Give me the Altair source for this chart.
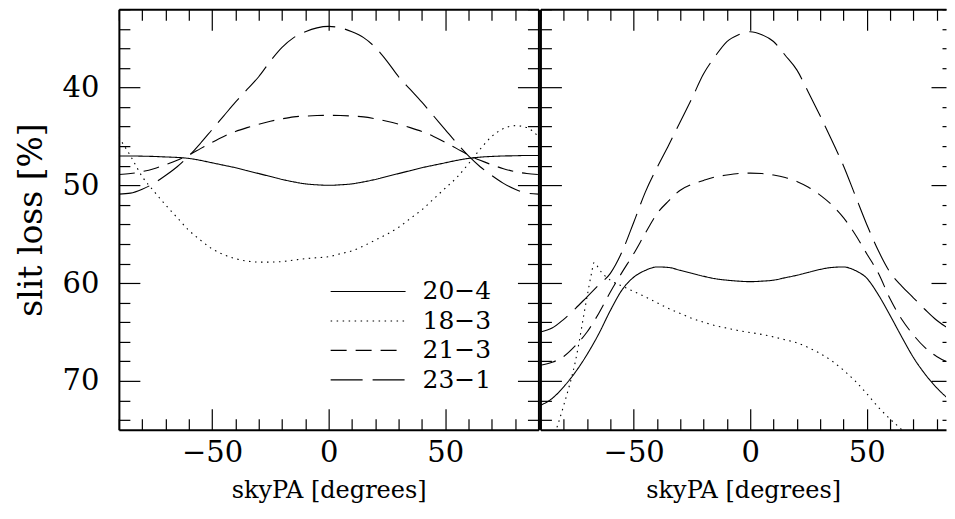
import altair as alt
import pandas as pd

# ---------------- data ----------------
series_names = ["20\u22124", "18\u22123", "21\u22123", "23\u22121"]

skypa = list(range(-90, 91, 5))

left_20_4 = [47.0, 47.0, 47.02, 47.05, 47.1, 47.15, 47.25, 47.45, 47.7, 47.95, 48.2, 48.5, 48.8,
             49.1, 49.4, 49.65, 49.85, 49.95, 50.0, 49.95, 49.85, 49.65, 49.4, 49.1, 48.8, 48.5,
             48.2, 47.95, 47.7, 47.45, 47.25, 47.12, 47.05, 47.0, 46.98, 46.95, 46.95]
left_18_3 = [45.1, 47.0, 49.1, 50.6, 52.0, 53.3, 54.6, 55.6, 56.5, 57.1, 57.5, 57.75, 57.85,
             57.85, 57.8, 57.65, 57.5, 57.4, 57.3, 57.0, 56.7, 56.2, 55.6, 55.0, 54.3, 53.4,
             52.5, 51.4, 50.3, 49.2, 47.8, 46.3, 45.0, 44.2, 43.9, 44.1, 45.0]
left_21_3 = [48.9, 48.8, 48.6, 48.3, 47.9, 47.45, 46.9, 46.25, 45.6, 45.0, 44.5, 44.1, 43.75,
             43.45, 43.2, 43.0, 42.92, 42.87, 42.85, 42.87, 42.92, 43.0, 43.2, 43.45, 43.75, 44.1,
             44.5, 45.0, 45.6, 46.25, 46.9, 47.45, 47.9, 48.3, 48.6, 48.8, 48.9]
left_23_1 = [50.9, 50.8, 50.4, 49.8, 49.0, 48.1, 47.0, 45.7, 44.3, 42.9, 41.5, 40.2, 38.9,
             37.3, 35.9, 34.9, 34.3, 33.9, 33.75, 33.9, 34.3, 34.9, 35.9, 37.3, 38.9, 40.2,
             41.5, 42.9, 44.3, 45.7, 47.0, 48.1, 49.0, 49.8, 50.4, 50.8, 50.9]

right_20_4 = [72.5, 71.8, 70.6, 69.1, 67.3, 65.2, 62.8, 60.7, 59.4, 58.7, 58.35, 58.4, 58.7,
              59.0, 59.3, 59.55, 59.7, 59.8, 59.85, 59.8, 59.7, 59.45, 59.2, 58.9, 58.6, 58.4,
              58.35, 58.7, 59.5, 61.2, 63.3, 65.5, 67.6, 69.3, 70.7, 71.8, 72.5]
right_18_3_x = [-90, -85, -80, -75, -70, -68, -67, -66, -65, -60, -55, -50, -45, -40, -35, -30,
                -25, -20, -15, -10, -5, 0, 5, 10, 15, 20, 25, 30, 35, 40, 45, 50, 55, 60, 65,
                70, 75, 80, 85, 90]
right_18_3 = [80.0, 76.3, 72.5, 68.0, 61.4, 58.9, 57.9, 58.1, 58.5, 59.7, 60.3, 60.85, 61.4,
              62.0, 62.6, 63.1, 63.6, 64.0, 64.35, 64.6, 64.85, 65.05, 65.25, 65.5, 65.8, 66.1,
              66.6, 67.2, 67.95, 68.9, 70.0, 71.3, 72.7, 73.9, 75.0, 76.3, 77.6, 78.8, 79.5, 80.0]
right_21_3 = [68.4, 68.1, 67.5, 66.4, 65.0, 63.1, 60.9, 58.9, 57.0, 54.9, 52.9, 51.6, 50.5,
              49.9, 49.5, 49.15, 48.95, 48.8, 48.75, 48.8, 48.95, 49.2, 49.6, 50.2, 51.0, 52.0,
              53.3, 55.0, 57.0, 59.0, 61.6, 63.7, 65.3, 66.6, 67.5, 68.1, 68.4]
right_23_1 = [65.0, 64.6, 63.7, 62.6, 61.4, 60.2, 59.0, 56.8, 53.8, 50.7, 48.2, 45.9, 43.5,
              41.1, 38.6, 36.8, 35.3, 34.6, 34.3, 34.6, 35.3, 36.7, 38.2, 40.5, 42.9, 45.4,
              48.0, 51.0, 54.0, 56.7, 58.9, 60.3, 61.5, 62.7, 63.8, 64.6, 65.0]

x_tick_values = list(range(-90, 91, 10))
y_tick_values = list(range(32, 76, 2))
x_label_values = [-50, 0, 50]
y_label_values = [40, 50, 60, 70]


def long_frame(pairs):
    rows = []
    for name, xs, ys in pairs:
        for xv, yv in zip(xs, ys):
            rows.append({"skypa": xv, "loss": yv, "series": name})
    return pd.DataFrame(rows)


left_df = long_frame([
    (series_names[0], skypa, left_20_4),
    (series_names[1], skypa, left_18_3),
    (series_names[2], skypa, left_21_3),
    (series_names[3], skypa, left_23_1),
])
right_df = long_frame([
    (series_names[0], skypa, right_20_4),
    (series_names[1], right_18_3_x, right_18_3),
    (series_names[2], skypa, right_21_3),
    (series_names[3], skypa, right_23_1),
])

# ---------------- styling ----------------
W, H = 420, 421
W_R = 406                               # right panel is cut by the window edge
X_MAX_R = -90 + 180 * W_R / W           # same px/degree as the left panel
FONT = "DejaVu Serif"
LABEL_SIZE = 29

yscale = alt.Scale(domain=[32, 75], reverse=True, nice=False, zero=False)
dash_scale = alt.Scale(domain=series_names,
                       range=[[1, 0], [1.5, 4.5], [16, 9], [32, 10]])


def cond(test, major, minor):
    return {"condition": {"test": test, "value": major}, "value": minor}


def tick_axis(orient, offset, values, size, domain):
    return alt.Axis(orient=orient, offset=offset, values=values, tickSize=size,
                    labels=False, domain=domain, domainColor="black", domainWidth=2,
                    grid=False, title=None, tickColor="black", tickWidth=1.2)


def panel(df, width, xmax, show_y, show_legend, right_cut):
    xscale = alt.Scale(domain=[-90, xmax], nice=False, zero=False)
    xt = [v for v in x_tick_values if v <= xmax]
    x_size = cond("datum.value % 50 === 0", 21, 11)
    y_size = cond("datum.value % 10 === 0", 21, 11)
    y_size_right = cond("datum.value % 10 === 0", 15, 4) if right_cut else y_size

    x_lab = alt.Axis(orient="bottom", values=x_label_values, ticks=False, tickSize=0,
                     domain=False, grid=False, labelPadding=9, labelFontSize=LABEL_SIZE,
                     title="skyPA [degrees]", titleFontSize=24, titlePadding=11)
    if show_y:
        y_enc = alt.Y("loss:Q", scale=yscale,
                      axis=alt.Axis(orient="left", values=y_label_values, ticks=False,
                                    tickSize=0, domain=False, grid=False, labelPadding=20,
                                    labelFontSize=LABEL_SIZE, title="slit loss [%]",
                                    titleFontSize=33, titlePadding=14))
    else:
        y_enc = alt.Y("loss:Q", scale=yscale, axis=None)

    if show_legend:
        legend = alt.Legend(title=None, orient="none", legendX=211, legendY=268,
                            symbolType="stroke", symbolSize=5625, symbolStrokeWidth=1.1,
                            symbolStrokeColor="black", labelFont=FONT,
                            labelFontSize=25, labelColor="black", labelOffset=16,
                            clipHeight=29, rowPadding=0.5, padding=0)
        dash_enc = alt.StrokeDash("series:N", scale=dash_scale, legend=legend)
    else:
        dash_enc = alt.StrokeDash("series:N", scale=dash_scale, legend=None)

    lines = alt.Chart(df).mark_line(color="black", strokeWidth=1.1, clip=True,
                                    interpolate="monotone").encode(
        x=alt.X("skypa:Q", scale=xscale, axis=x_lab),
        y=y_enc,
        strokeDash=dash_enc,
    )
    # inward ticks: axes flipped to the opposite edge with a negative offset
    ticks_a = alt.Chart(df).mark_point(opacity=0, size=1, clip=True).encode(
        x=alt.X("skypa:Q", scale=xscale,
                axis=tick_axis("top", -H, xt, x_size, True)),       # bottom edge
        y=alt.Y("loss:Q", scale=yscale,
                axis=tick_axis("right", -width, y_tick_values, y_size, True)),  # left edge
    )
    ticks_b = alt.Chart(df).mark_point(opacity=0, size=1, clip=True).encode(
        x=alt.X("skypa:Q", scale=xscale,
                axis=tick_axis("bottom", -H, xt, x_size, True)),    # top edge
        y=alt.Y("loss:Q", scale=yscale,
                axis=tick_axis("left", -width, y_tick_values, y_size_right,
                               not right_cut)),                     # right edge
    )
    return alt.layer(lines, ticks_a, ticks_b).resolve_axis(
        x="independent", y="independent").properties(width=width, height=H)


left = panel(left_df, W, 90, True, True, False)
right = panel(right_df, W_R, X_MAX_R, False, False, True)

chart = alt.hconcat(left, right, spacing=0).resolve_scale(
    strokeDash="independent").resolve_legend(strokeDash="independent").properties(
    padding={"left": 7, "top": 0, "right": 0, "bottom": 0},
    background="white",
).configure_view(stroke="transparent", strokeWidth=0).configure_axis(
    labelFont=FONT, titleFont=FONT, labelColor="black", titleColor="black",
    titleFontWeight="normal"
)

chart.save("out.html", embed_options={"renderer": "svg", "actions": False})
